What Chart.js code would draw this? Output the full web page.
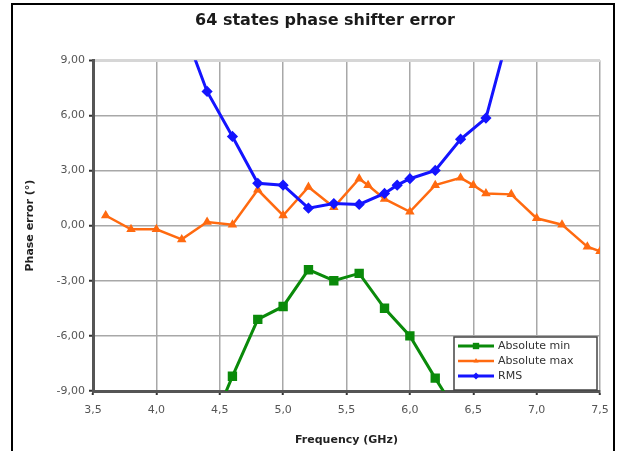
<!DOCTYPE html>
<html>
<head>
<meta charset="utf-8">
<script src="https://cdn.jsdelivr.net/npm/chart.js@4"></script>
<style>
  html, body { margin: 0; padding: 0; background: #fff; overflow: hidden; }
  #frame { position: absolute; left: 11px; top: 3px; width: 600px; height: 470px; border: 2px solid #000; }
  #wrap { position: absolute; left: 0; top: 0; width: 622px; height: 451px; }
</style>
</head>
<body>
<div id="frame"></div>
<div id="wrap"><canvas id="myChart" width="622" height="451"></canvas></div>
<script>
// Absolute min
const freqMin = [4.4, 4.6, 4.8, 5.0, 5.2, 5.4, 5.6, 5.8, 6.0, 6.2, 6.4];
const absMin = [-11.5, -8.2, -5.1, -4.4, -2.4, -3.0, -2.6, -4.5, -6.0, -8.3, -10.5];

// Absolute max
const freqMax = [3.6, 3.8, 4.0, 4.2, 4.4, 4.6, 4.8, 5.0, 5.2, 5.4, 5.6, 5.67, 5.8, 6.0, 6.2, 6.4, 6.5, 6.6, 6.8, 7.0, 7.2, 7.4, 7.5];
const absMax = [0.55, -0.2, -0.2, -0.75, 0.2, 0.05, 1.95, 0.55, 2.1, 1.0, 2.55, 2.2, 1.45, 0.75, 2.2, 2.6, 2.2, 1.75, 1.7, 0.4, 0.05, -1.15, -1.4];

// RMS
const freqRms = [4.2, 4.4, 4.6, 4.8, 5.0, 5.2, 5.4, 5.6, 5.8, 5.9, 6.0, 6.2, 6.4, 6.6, 6.8];
const rms = [11, 7.3, 4.85, 2.3, 2.2, 0.95, 1.2, 1.15, 1.75, 2.2, 2.55, 3.0, 4.7, 5.85, 11];

const xTicks = [3.5, 4.0, 4.5, 5.0, 5.5, 6.0, 6.5, 7.0, 7.5];
const yTicks = [-9, -6, -3, 0, 3, 6, 9];

const toPoints = (xs, ys) => xs.map((x, i) => ({x: x, y: ys[i]}));

function drawMarker(ctx, style, x, y, r) {
  ctx.beginPath();
  if (style === 'rect') {
    const s = r * Math.SQRT1_2;
    ctx.rect(x - s, y - s, 2 * s, 2 * s);
  } else if (style === 'triangle') {
    ctx.moveTo(x, y - r);
    ctx.lineTo(x + r * 0.87, y + r * 0.5);
    ctx.lineTo(x - r * 0.87, y + r * 0.5);
    ctx.closePath();
  } else {
    ctx.moveTo(x, y - r);
    ctx.lineTo(x + r, y);
    ctx.lineTo(x, y + r);
    ctx.lineTo(x - r, y);
    ctx.closePath();
  }
  ctx.fill();
}

const boxLegend = {
  id: 'boxLegend',
  afterDatasetsDraw(chart) {
    const {ctx, chartArea} = chart;
    const w = 143, h = 53;
    const x0 = chartArea.right - w - 3;
    const y0 = chartArea.bottom - h - 1;
    ctx.save();
    ctx.fillStyle = '#fff';
    ctx.fillRect(x0, y0, w, h);
    ctx.strokeStyle = '#444';
    ctx.lineWidth = 1.5;
    ctx.strokeRect(x0, y0, w, h);
    ctx.font = '11px "DejaVu Sans"';
    ctx.textBaseline = 'middle';
    chart.data.datasets.forEach((ds, i) => {
      const y = y0 + 9 + i * 15;
      ctx.strokeStyle = ds.borderColor;
      ctx.lineWidth = ds.borderWidth;
      ctx.beginPath();
      ctx.moveTo(x0 + 4, y);
      ctx.lineTo(x0 + 40, y);
      ctx.stroke();
      ctx.fillStyle = ds.borderColor;
      drawMarker(ctx, ds.pointStyle, x0 + 22, y, ds.pointRadius);
      ctx.fillStyle = '#333';
      ctx.fillText(ds.label, x0 + 44, y);
    });
    ctx.restore();
  }
};

const ctx = document.getElementById('myChart').getContext('2d');
const myChart = new Chart(ctx, {
  type: 'line',
  data: {
    datasets: [{
      label: 'Absolute min',
      data: toPoints(freqMin, absMin),
      borderColor: '#0a8a0a',
      backgroundColor: '#0a8a0a',
      borderWidth: 3,
      pointStyle: 'rect',
      pointRadius: 4.5,
      order: 3
    }, {
      label: 'Absolute max',
      data: toPoints(freqMax, absMax),
      borderColor: '#ff6a10',
      backgroundColor: '#ff6a10',
      borderWidth: 2.5,
      pointStyle: 'triangle',
      pointRadius: 3,
      order: 2
    }, {
      label: 'RMS',
      data: toPoints(freqRms, rms),
      borderColor: '#1414ff',
      backgroundColor: '#1414ff',
      borderWidth: 3,
      pointStyle: 'rectRot',
      pointRadius: 3.5,
      order: 1
    }]
  },
  options: {
    responsive: false,
    animation: false,
    // left padding nudges the title right, like the original
    layout: { padding: { left: 50, right: 22, top: 0, bottom: 0 } },
    plugins: {
      legend: { display: false },
      tooltip: { enabled: false },
      title: {
        display: true,
        text: '64 states phase shifter error',
        color: '#1a1a1a',
        font: { family: 'DejaVu Sans', size: 16, weight: 'bold' },
        padding: { top: 11, bottom: 30 }
      }
    },
    scales: {
      x: {
        type: 'linear',
        min: 3.5,
        max: 7.5,
        afterBuildTicks: (s) => { s.ticks = xTicks.map(v => ({value: v})); },
        afterFit: (s) => { s.height = 60; },
        ticks: {
          color: '#555',
          font: { family: 'DejaVu Sans', size: 11 },
          padding: 9,
          callback: (v) => v.toFixed(1).replace('.', ',')
        },
        grid: { color: '#a8a8a8', lineWidth: 1.5, tickLength: 4, tickColor: '#333', tickWidth: 2 },
        border: { color: '#555', width: 3 },
        title: {
          display: true,
          text: 'Frequency (GHz)',
          color: '#222',
          font: { family: 'DejaVu Sans', size: 11, weight: 'bold' },
          padding: { top: 0, bottom: 4 }
        }
      },
      y: {
        min: -9,
        max: 9,
        afterBuildTicks: (s) => { s.ticks = yTicks.map(v => ({value: v})); },
        afterFit: (s) => { s.width = 43; },
        ticks: {
          color: '#555',
          font: { family: 'DejaVu Sans', size: 11 },
          padding: 4,
          callback: (v) => v.toFixed(2).replace('.', ',')
        },
        grid: {
          color: (c) => (c.tick && c.tick.value === 9 ? '#d6d6d6' : '#a8a8a8'),
          lineWidth: (c) => (c.tick && c.tick.value === 9 ? 3 : 1.5),
          tickLength: 4, tickColor: '#333', tickWidth: 2
        },
        border: { color: '#555', width: 3 },
        title: {
          display: true,
          text: 'Phase error (°)',
          color: '#222',
          font: { family: 'DejaVu Sans', size: 11, weight: 'bold' },
          padding: { top: -26, bottom: 0 }
        }
      }
    }
  },
  plugins: [boxLegend]
});
</script>
</body>
</html>
